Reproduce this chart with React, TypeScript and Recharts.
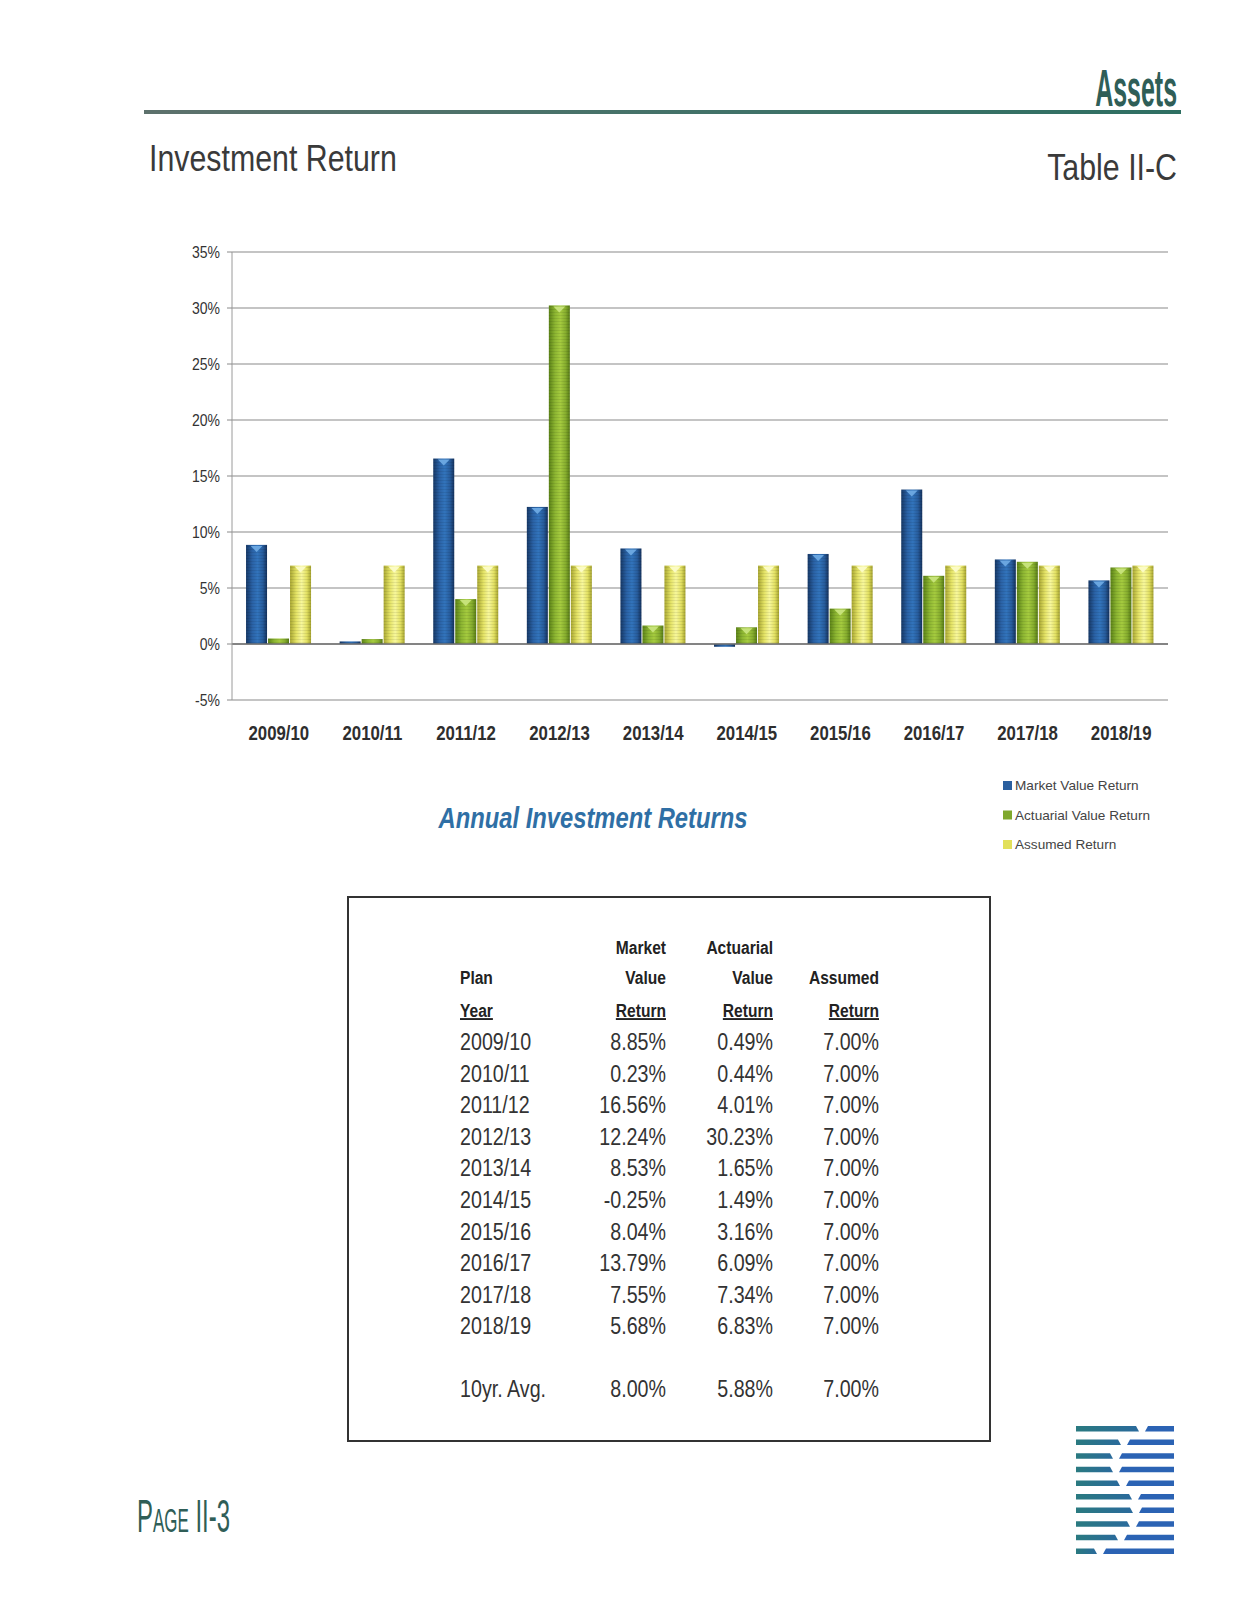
import React from 'react';
import { BarChart, Bar, XAxis, YAxis, CartesianGrid, ReferenceLine } from 'recharts';

const YEARS = ['2009/10', '2010/11', '2011/12', '2012/13', '2013/14', '2014/15', '2015/16', '2016/17', '2017/18', '2018/19'];
const MARKET = [8.85, 0.23, 16.56, 12.24, 8.53, -0.25, 8.04, 13.79, 7.55, 5.68];
const ACTUARIAL = [0.49, 0.44, 4.01, 30.23, 1.65, 1.49, 3.16, 6.09, 7.34, 6.83];
const ASSUMED = [7.0, 7.0, 7.0, 7.0, 7.0, 7.0, 7.0, 7.0, 7.0, 7.0];
const AVERAGES = [8.0, 5.88, 7.0];
const Y_TICKS = [-5, 0, 5, 10, 15, 20, 25, 30, 35];
const SERIES = ['Market Value Return', 'Actuarial Value Return', 'Assumed Return'];

const SANS = "'Liberation Sans', Arial, sans-serif";
const TEAL = '#2f5e57';

const data = YEARS.map((year, i) => ({
  year,
  market: MARKET[i],
  actuarial: ACTUARIAL[i],
  assumed: ASSUMED[i],
}));

const pct = (v: number) => `${v.toFixed(2)}%`;

// no Arial Narrow in the sandbox, so squeeze Liberation Sans instead
const NText = ({ x, y, sx = 0.82, children, ...rest }: any) => (
  <text transform={`translate(${x},${y}) scale(${sx},1)`} fontFamily={SANS} {...rest}>
    {children}
  </text>
);

// cylinder-ish bar with the small light notch on top, like the old Excel 3D bars
const makeShape = (gradId: string, notch: string) => (props: any) => {
  const { x, y, width, height } = props;
  if (x == null || y == null || !width) return null;
  const top = height < 0 ? y + height : y;
  const h = Math.abs(height);
  return (
    <g>
      <rect x={x} y={top} width={width} height={h} fill={`url(#${gradId})`} />
      <rect x={x} y={top} width={width} height={h} fill="url(#scan)" />
      {height > 8 && (
        <polygon
          points={`${x + width * 0.22},${top + 1} ${x + width * 0.78},${top + 1} ${x + width / 2},${top + 7}`}
          fill={notch}
        />
      )}
    </g>
  );
};

const XTick = (p: any) => (
  <NText x={p.x} y={p.y} dy={13.5} sx={0.8} textAnchor="middle" fontWeight={700} fontSize={21} fill="#2e2e2e">
    {p.payload.value}
  </NText>
);

const YTick = (p: any) => (
  <NText x={p.x} y={p.y} dy={6} sx={0.85} textAnchor="end" fontSize={16.5} fill="#333">
    {`${p.payload.value}%`}
  </NText>
);

const LOGO_SPLITS = [1138, 1120, 1112, 1112, 1119, 1131, 1132, 1129, 1117, 1096];

const Logo = () => (
  <g>
    <defs>
      <linearGradient id="logoL" x1="0" x2="1" y1="0" y2="0">
        <stop offset="0%" stopColor="#2a7a80" />
        <stop offset="100%" stopColor="#2a6a9c" />
      </linearGradient>
    </defs>
    {LOGO_SPLITS.map((s, i) => {
      const y = 1426 + i * 13.6;
      return (
        <g key={i}>
          <polygon points={`1076,${y} ${s - 2},${y} ${s + 1},${y + 5.5} 1076,${y + 5.5}`} fill="url(#logoL)" />
          <polygon points={`${s + 10},${y} 1174,${y} 1174,${y + 5.5} ${s + 7},${y + 5.5}`} fill="#2b63b4" />
        </g>
      );
    })}
  </g>
);

const Page = () => {
  const rowY = (i: number) => 1050 + i * 31.6;
  return (
    <svg width={1251} height={1615} style={{ position: 'absolute', left: 0, top: 0 }}>
      <defs>
        <linearGradient id="rule" x1="0" x2="1" y1="0" y2="0">
          <stop offset="0%" stopColor="#5d716c" />
          <stop offset="60%" stopColor="#3f7268" />
          <stop offset="100%" stopColor="#2e6f62" />
        </linearGradient>
      </defs>
      <rect x={144} y={110} width={1037} height={4} fill="url(#rule)" />
      <NText x={1177} y={106} sx={0.48} textAnchor="end" fontWeight={700} fontSize={52} fill={TEAL}>Assets</NText>
      <NText x={149} y={171} fontSize={37} fill="#3a3a3a">Investment Return</NText>
      <NText x={1177} y={180} textAnchor="end" fontSize={37} fill="#3a3a3a">Table II-C</NText>

      <NText x={593} y={828} textAnchor="middle" fontSize={29} fontWeight={700} fontStyle="italic" fill="#2f6fa5">
        Annual Investment Returns
      </NText>

      {SERIES.map((name, i) => (
        <g key={name}>
          <rect x={1003} y={781 + i * 29.5} width={9} height={9} fill={['#2a5f9f', '#7fa82c', '#e2e05a'][i]} />
          <text x={1015} y={790 + i * 29.5} fontFamily={SANS} fontSize={13.6} fill="#444">{name}</text>
        </g>
      ))}

      <rect x={348} y={897} width={642} height={544} fill="none" stroke="#333" strokeWidth={2} />
      <g fontWeight={700} fontSize={19} fill="#222">
        <NText x={666} y={954} textAnchor="end">Market</NText>
        <NText x={773} y={954} textAnchor="end">Actuarial</NText>
        <NText x={460} y={984}>Plan</NText>
        <NText x={666} y={984} textAnchor="end">Value</NText>
        <NText x={773} y={984} textAnchor="end">Value</NText>
        <NText x={879} y={984} textAnchor="end">Assumed</NText>
        <NText x={460} y={1017} textDecoration="underline">Year</NText>
        <NText x={666} y={1017} textAnchor="end" textDecoration="underline">Return</NText>
        <NText x={773} y={1017} textAnchor="end" textDecoration="underline">Return</NText>
        <NText x={879} y={1017} textAnchor="end" textDecoration="underline">Return</NText>
      </g>
      <g fontSize={24} fill="#333">
        {YEARS.map((yr, i) => (
          <g key={yr}>
            <NText x={460} y={rowY(i)}>{yr}</NText>
            <NText x={666} y={rowY(i)} textAnchor="end">{pct(MARKET[i])}</NText>
            <NText x={773} y={rowY(i)} textAnchor="end">{pct(ACTUARIAL[i])}</NText>
            <NText x={879} y={rowY(i)} textAnchor="end">{pct(ASSUMED[i])}</NText>
          </g>
        ))}
        <NText x={460} y={1397}>10yr. Avg.</NText>
        <NText x={666} y={1397} textAnchor="end">{pct(AVERAGES[0])}</NText>
        <NText x={773} y={1397} textAnchor="end">{pct(AVERAGES[1])}</NText>
        <NText x={879} y={1397} textAnchor="end">{pct(AVERAGES[2])}</NText>
      </g>

      <NText x={137} y={1532} sx={0.52} fontSize={46} fill={TEAL} style={{ fontVariant: 'small-caps' }}>
        Page II-3
      </NText>
      <Logo />
    </svg>
  );
};

export default function App() {
  return (
    <div style={{ position: 'absolute', left: 0, top: 0, width: 1251, height: 1615, background: '#fff' }}>
      <Page />
      <div style={{ position: 'absolute', left: 0, top: 0 }}>
        <BarChart
          width={1251}
          height={760}
          data={data}
          margin={{ top: 252, right: 83, left: 172, bottom: 20 }}
          barCategoryGap="15%"
          barGap={1}
        >
          <defs>
            <linearGradient id="gBlue" x1="0" x2="1" y1="0" y2="0">
              <stop offset="0%" stopColor="#163866" />
              <stop offset="30%" stopColor="#2a62a6" />
              <stop offset="55%" stopColor="#3274bc" />
              <stop offset="80%" stopColor="#275c9c" />
              <stop offset="100%" stopColor="#14315c" />
            </linearGradient>
            <linearGradient id="gGreen" x1="0" x2="1" y1="0" y2="0">
              <stop offset="0%" stopColor="#5b8217" />
              <stop offset="30%" stopColor="#8db632" />
              <stop offset="55%" stopColor="#a5cb3f" />
              <stop offset="80%" stopColor="#86ad2e" />
              <stop offset="100%" stopColor="#567a15" />
            </linearGradient>
            <linearGradient id="gYellow" x1="0" x2="1" y1="0" y2="0">
              <stop offset="0%" stopColor="#a9a732" />
              <stop offset="30%" stopColor="#e4e366" />
              <stop offset="55%" stopColor="#f7f79c" />
              <stop offset="80%" stopColor="#e2e062" />
              <stop offset="100%" stopColor="#a4a22f" />
            </linearGradient>
            <pattern id="scan" width={4} height={3} patternUnits="userSpaceOnUse">
              <rect width={4} height={1} fill="rgba(0,0,0,0.08)" />
            </pattern>
          </defs>
          <CartesianGrid vertical={false} stroke="#8a8a8a" strokeWidth={1.2} />
          <XAxis
            dataKey="year"
            axisLine={false}
            tickLine={false}
            height={40}
            tickMargin={20}
            interval={0}
            tick={XTick}
          />
          <YAxis
            domain={[-5, 35]}
            ticks={Y_TICKS}
            width={60}
            axisLine={{ stroke: '#9a9a9a' }}
            tickLine={{ stroke: '#8a8a8a' }}
            tickSize={5}
            tickMargin={7}
            tick={YTick}
          />
          <ReferenceLine y={0} stroke="#6f6f6f" strokeWidth={1.5} />
          <Bar dataKey="market" name={SERIES[0]} isAnimationActive={false} shape={makeShape('gBlue', '#6aa6e0')} />
          <Bar dataKey="actuarial" name={SERIES[1]} isAnimationActive={false} shape={makeShape('gGreen', '#c6e27a')} />
          <Bar dataKey="assumed" name={SERIES[2]} isAnimationActive={false} shape={makeShape('gYellow', '#fbfbc6')} />
        </BarChart>
      </div>
    </div>
  );
}
